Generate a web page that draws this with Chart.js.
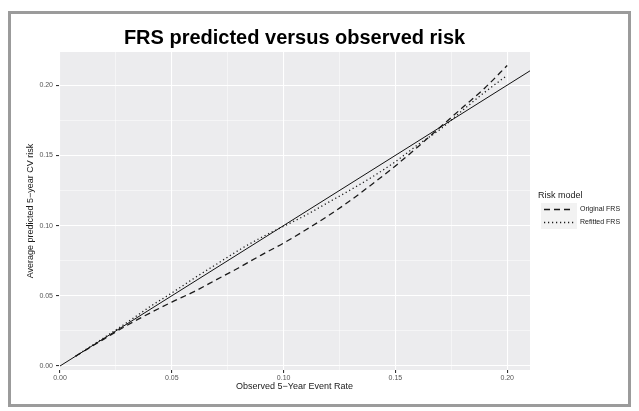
<!DOCTYPE html>
<html lang="en">
<head>
<meta charset="UTF-8">
<title>FRS predicted versus observed risk</title>
<script src="https://cdn.jsdelivr.net/npm/chart.js"></script>
<style>
    body { margin: 0; background: #ffffff; }
    .wrap { position: relative; width: 639px; height: 411px; }
    .frame {
        position: absolute; left: 8px; top: 11px;
        width: 623px; height: 396px;
        border: 3px solid #9b9b9b; box-sizing: border-box;
        pointer-events: none;
    }
    canvas { position: absolute; left: 0; top: 0; }
</style>
</head>
<body>
<div class="wrap">
    <canvas id="calChart" width="639" height="411"></canvas>
    <div class="frame"></div>
</div>
<script>
// observed 5-year event rate, shared by both models
const observed    = [0.007, 0.02, 0.03, 0.04, 0.05, 0.06, 0.07, 0.08, 0.09, 0.10, 0.11, 0.12, 0.13, 0.14, 0.15, 0.16, 0.17, 0.18, 0.19, 0.20];
// average predicted 5-year CV risk
const originalFRS = [0.007, 0.0195, 0.029, 0.0375, 0.0455, 0.053, 0.0615, 0.070, 0.079, 0.0875, 0.097, 0.107, 0.118, 0.130, 0.1425, 0.156, 0.170, 0.184, 0.198, 0.214];
const refittedFRS = [0.007, 0.0205, 0.031, 0.042, 0.052, 0.0625, 0.0725, 0.0825, 0.0915, 0.0995, 0.1075, 0.1165, 0.1255, 0.135, 0.1455, 0.1575, 0.1685, 0.182, 0.195, 0.207];
// perfect calibration line y = x
const diagonal    = [0, 0.22];
const modelNames  = ['Original FRS', 'Refitted FRS'];
const xTicks = [0, 0.025, 0.05, 0.075, 0.10, 0.125, 0.15, 0.175, 0.20];
const yTicks = [0, 0.025, 0.05, 0.075, 0.10, 0.125, 0.15, 0.175, 0.20];

const FONT = '"Liberation Sans", Arial, sans-serif';
const isMajor = v => Math.abs(v / 0.05 - Math.round(v / 0.05)) < 1e-6;

const toPoints = ys => observed.map((x, i) => ({ x: x, y: ys[i] }));

// grey panel like ggplot
const panelBg = {
    id: 'panelBg',
    beforeDraw(chart) {
        const { ctx, chartArea: a } = chart;
        ctx.save();
        ctx.fillStyle = '#ececee';
        ctx.fillRect(a.left, a.top, a.right - a.left, a.bottom - a.top);
        ctx.restore();
    }
};

// title + legend drawn on the canvas
const extras = {
    id: 'extras',
    afterDraw(chart) {
        const { ctx, chartArea: a } = chart;
        ctx.save();
        ctx.fillStyle = '#000';
        ctx.font = 'bold 20px ' + FONT;
        ctx.textAlign = 'center';
        ctx.textBaseline = 'middle';
        ctx.fillText('FRS predicted versus observed risk', (a.left + a.right) / 2, 38);

        ctx.textAlign = 'left';
        ctx.font = '9px ' + FONT;
        ctx.fillStyle = '#1a1a1a';
        ctx.fillText('Risk model', 538, 196);

        const dashes = [[6, 4], [1.2, 2.8]];
        modelNames.forEach((name, i) => {
            const y0 = 203 + i * 13;
            ctx.fillStyle = '#f2f2f2';
            ctx.fillRect(541, y0, 36, 13);
            ctx.strokeStyle = '#1a1a1a';
            ctx.lineWidth = 1.3;
            ctx.setLineDash(dashes[i]);
            ctx.beginPath();
            ctx.moveTo(544, y0 + 6.5);
            ctx.lineTo(574, y0 + 6.5);
            ctx.stroke();
            ctx.setLineDash([]);
            ctx.fillStyle = '#1a1a1a';
            ctx.font = '7px ' + FONT;
            ctx.fillText(name, 580, y0 + 6.5);
        });
        ctx.restore();
    }
};

const gridStyle = {
    color: '#ffffff',
    lineWidth: c => (c.tick && isMajor(c.tick.value)) ? 1.1 : 0.5,
    tickColor: c => (c.tick && isMajor(c.tick.value)) ? '#333333' : 'rgba(0,0,0,0)',
    tickLength: 3,
    drawTicks: true
};

new Chart(document.getElementById('calChart'), {
    type: 'scatter',
    data: {
        datasets: [
            {
                label: 'Perfect',
                data: diagonal.map(v => ({ x: v, y: v })),
                showLine: true, pointRadius: 0,
                borderColor: '#111111', borderWidth: 1,
                clip: 0
            },
            {
                label: modelNames[0],
                data: toPoints(originalFRS),
                showLine: true, pointRadius: 0,
                borderColor: '#1a1a1a', borderWidth: 1.3,
                borderDash: [6, 4], cubicInterpolationMode: 'monotone'
            },
            {
                label: modelNames[1],
                data: toPoints(refittedFRS),
                showLine: true, pointRadius: 0,
                borderColor: '#1a1a1a', borderWidth: 1.3,
                borderDash: [1.2, 2.8], cubicInterpolationMode: 'monotone'
            }
        ]
    },
    options: {
        responsive: false,
        animation: false,
        layout: { padding: { left: 25.6, top: 52, right: 109, bottom: 18.6 } },
        plugins: {
            legend: { display: false },
            tooltip: { enabled: false },
            title: { display: false }
        },
        scales: {
            x: {
                type: 'linear',
                min: -0.00045, max: 0.2102,
                afterBuildTicks: s => { s.ticks = xTicks.map(v => ({ value: v })); },
                afterFit: s => { s.height = 22.4; },
                grid: gridStyle,
                border: { display: false },
                ticks: {
                    autoSkip: false, maxRotation: 0, padding: 1,
                    color: '#555555', font: { family: FONT, size: 7 },
                    callback: v => isMajor(v) ? v.toFixed(2) : ''
                },
                title: {
                    display: true, text: 'Observed 5\u2212Year Event Rate',
                    color: '#1a1a1a', font: { family: FONT, size: 9 },
                    padding: 0
                }
            },
            y: {
                type: 'linear',
                min: -0.00285, max: 0.2236,
                afterBuildTicks: s => { s.ticks = yTicks.map(v => ({ value: v })); },
                afterFit: s => { s.width = 33.4; },
                grid: gridStyle,
                border: { display: false },
                ticks: {
                    autoSkip: false, padding: 3,
                    color: '#555555', font: { family: FONT, size: 7 },
                    callback: v => isMajor(v) ? v.toFixed(2) : ''
                },
                title: {
                    display: true, text: 'Average predicted 5\u2212year CV risk',
                    color: '#1a1a1a', font: { family: FONT, size: 9 },
                    padding: 0
                }
            }
        }
    },
    plugins: [panelBg, extras]
});
</script>
</body>
</html>
